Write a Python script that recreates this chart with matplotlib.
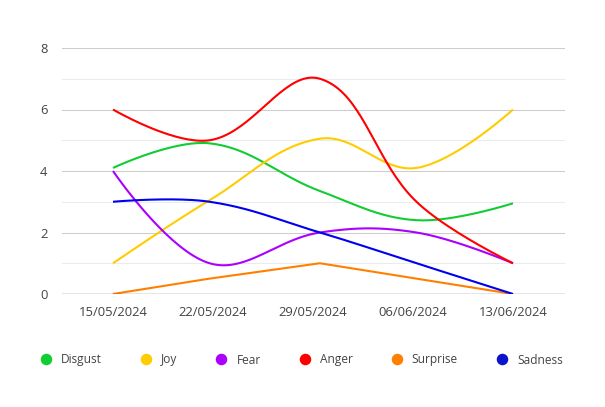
import numpy as np
import matplotlib
matplotlib.use("Agg")
import matplotlib.pyplot as plt
from matplotlib.lines import Line2D

plt.rcParams['font.family'] = ['Open Sans', 'DejaVu Sans']

# Data: days after 15/05/2024 for each reading
days = [0, 7, 15, 22, 29]
tick_days = [0, 7.25, 14.5, 21.75, 29]
tick_labels = ["15/05/2024", "22/05/2024", "29/05/2024", "06/06/2024", "13/06/2024"]

disgust = [4.1, 4.9, 3.35, 2.4, 2.95]
joy = [1.0, 3.05, 5.05, 4.1, 6.0]
fear = [4, 1, 2, 2, 1]
anger = [6, 5, 7, 3, 1]
surprise = [0, 0.5, 1, 0.5, 0]
sadness = [3, 3, 2, 1, 0]

# name, values, line colour, legend colour, smoothed?
series = [
    ("Disgust", disgust, "#11cc33", "#11cc33", True),
    ("Joy", joy, "#ffcc00", "#ffcc00", True),
    ("Fear", fear, "#aa00ff", "#aa00ff", True),
    ("Anger", anger, "#ff0000", "#ff0000", True),
    ("Surprise", surprise, "#ff8000", "#ff8000", False),
    ("Sadness", sadness, "#0000f0", "#0a14c8", True),
]

TEXT = "#444444"
FS = 9.4
LEG_FS = 8.6


def smooth_curve(ax, xs, ys, tension=0.38, steps=40):
    # bezier spline through the points, worked out in display space
    pts = ax.transData.transform(np.column_stack([xs, ys]))
    n = len(pts)
    c_in = [pts[0].copy()]
    c_out = []
    for i in range(1, n - 1):
        p0, p1, p2 = pts[i - 1], pts[i], pts[i + 1]
        d01 = np.hypot(*(p1 - p0))
        d12 = np.hypot(*(p2 - p1))
        v = p2 - p0
        fa = tension * d01 / (d01 + d12)
        fb = tension * d12 / (d01 + d12)
        c_in.append(p1 - fa * v)
        c_out.append(p1 + fb * v)
    out_pts = [pts[0].copy()] + c_out
    in_pts = c_in[1:] + [pts[-1].copy()]
    curve = []
    tt = np.linspace(0, 1, steps)[:, None]
    for i in range(n - 1):
        a, b, c, d = pts[i], out_pts[i], in_pts[i], pts[i + 1]
        seg = ((1 - tt) ** 3) * a + 3 * ((1 - tt) ** 2) * tt * b + 3 * (1 - tt) * tt ** 2 * c + tt ** 3 * d
        curve.append(seg if i == 0 else seg[1:])
    curve = np.vstack(curve)
    data = ax.transData.inverted().transform(curve)
    return data[:, 0], data[:, 1]


fig = plt.figure(figsize=(6.05, 4.07), dpi=100)
ax = fig.add_axes([62 / 605, 1 - 294 / 407, (565 - 62) / 605, (294 - 48) / 407])
ax.set_xlim(-51 / 400 * 29, 29 + 52 / 400 * 29)
ax.set_ylim(0, 8)

for v in [1, 3, 5, 7]:
    ax.axhline(v, color="#ebebeb", lw=0.75, zorder=0)
for v in [2, 4, 6, 8]:
    ax.axhline(v, color="#cccccc", lw=0.75, zorder=0)
ax.axhline(0, color="#333333", lw=0.9, zorder=5)

for name, vals, col, _, smooth in series:
    if smooth:
        sx, sy = smooth_curve(ax, days, vals)
    else:
        sx, sy = days, vals
    ax.plot(sx, sy, color=col, lw=1.5, solid_capstyle="butt", zorder=3)

for s in ax.spines.values():
    s.set_visible(False)
ax.set_yticks([0, 2, 4, 6, 8])
ax.set_yticklabels(["0", "2", "4", "6", "8"])
ax.set_xticks(tick_days)
ax.set_xticklabels(tick_labels)
ax.tick_params(axis="y", length=0, pad=10.5, labelsize=FS, labelcolor=TEXT)
ax.tick_params(axis="x", length=0, pad=9, labelsize=FS, labelcolor=TEXT)

handles = [Line2D([], [], ls="none", marker="o", ms=8.3, color=lc, markeredgewidth=0)
           for _, _, _, lc, _ in series]
fig.legend(handles, [s[0] for s in series], loc="center left",
           bbox_to_anchor=(41.2 / 605, 1 - 360 / 407), ncol=6, frameon=False,
           fontsize=LEG_FS, labelcolor=TEXT, handlelength=0.8, handletextpad=0.85,
           columnspacing=3.3, borderpad=0, borderaxespad=0)

fig.savefig("out.png", dpi=100)
